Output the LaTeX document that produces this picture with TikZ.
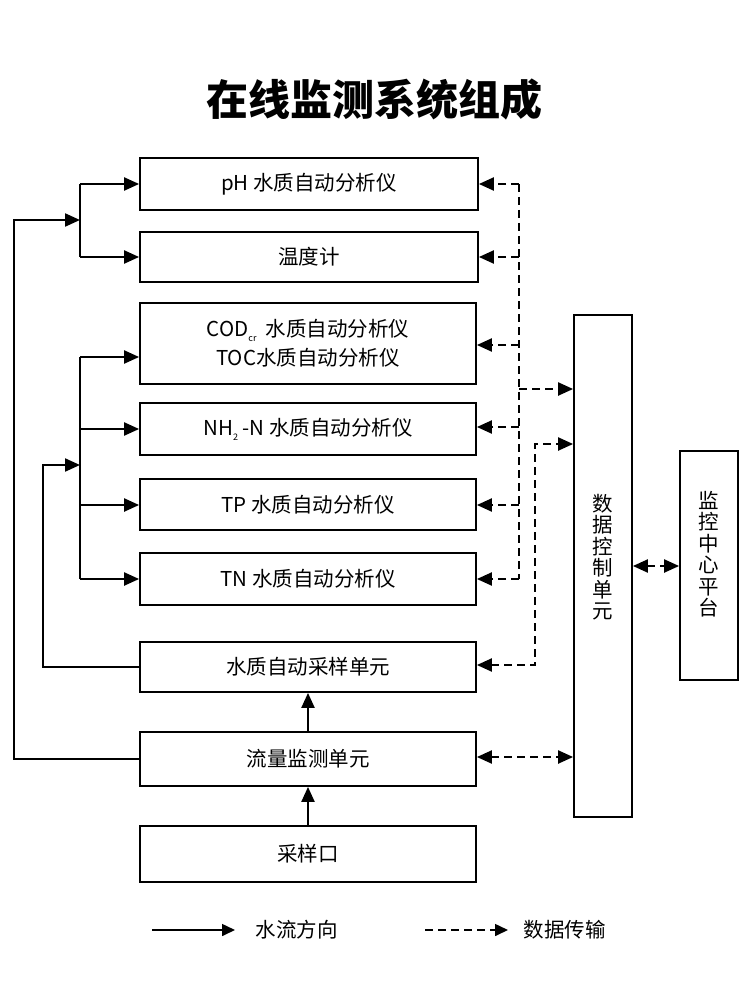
\documentclass[tikz,border=0pt]{standalone}
\usepackage{fontspec}
\setmainfont{Noto Sans CJK SC}
\usetikzlibrary{arrows.meta}
\newcommand{\tinysub}[1]{\raisebox{-5pt}{\fontsize{9}{9}\selectfont #1}}
\begin{document}
\begin{tikzpicture}[x=1pt,y=-1pt,
  box/.style={draw,line width=1.8pt,inner sep=0pt,align=center,font=\fontsize{20.5}{29}\selectfont},
  vtext/.style={align=center,font=\fontsize{20.5}{21.5}\selectfont},
  fline/.style={line width=2.2pt},
  dline/.style={line width=2.2pt,dash pattern=on 8pt off 5pt},
  tip/.tip={Triangle[length=15pt,width=13pt]},
  ltip/.tip={Triangle[length=13pt,width=12pt]},
  lab/.style={anchor=west,font=\fontsize{20.5}{23}\selectfont}]
\useasboundingbox (0,0) rectangle (750,1000);
\fill[white] (0,0) rectangle (750,1000);
% title
\node[font=\fontsize{42}{50}\selectfont\bfseries] (title) at (374,100) {在线监测系统组成};
% boxes
\node[box,minimum width=338pt,minimum height=52pt] (ph) at (309,184) {pH 水质自动分析仪};
\node[box,minimum width=338pt,minimum height=50pt] (temp) at (309,257) {温度计};
\node[box,minimum width=336pt,minimum height=81pt] (cod) at (308,343.5) {COD\tinysub{cr}\ \ 水质自动分析仪\\TOC水质自动分析仪};
\node[box,minimum width=336pt,minimum height=52pt] (nh) at (308,429) {NH\tinysub{2}\ -N 水质自动分析仪};
\node[box,minimum width=336pt,minimum height=51pt] (tp) at (308,504.5) {TP 水质自动分析仪};
\node[box,minimum width=336pt,minimum height=52pt] (tn) at (308,579) {TN 水质自动分析仪};
\node[box,minimum width=336pt,minimum height=50pt] (samp) at (308,667) {水质自动采样单元};
\node[box,minimum width=336pt,minimum height=54pt] (flow) at (308,759) {流量监测单元};
\node[box,minimum width=336pt,minimum height=56pt] (port) at (308,854) {采样口};
\node[box,minimum width=58pt,minimum height=502pt] (data) at (603,566) {};
\node[vtext] (datat) at (603,557) {数\\据\\控\\制\\单\\元};
\node[box,minimum width=58pt,minimum height=229pt] (ctr) at (709,565.5) {};
\node[vtext] (ctrt) at (709,554) {监\\控\\中\\心\\平\\台};
% left water flow
\coordinate (o1) at (14,759);
\coordinate (o2) at (14,220);
\coordinate (b1) at (80,220);
\coordinate (b1t) at (80,184);
\coordinate (b1b) at (80,257);
\draw[fline,-tip] (flow.west) -- (o1) -- (o2) -- (b1);
\draw[fline] (b1t) -- (b1b);
\draw[fline,-tip] (b1t) -- (ph.west);
\draw[fline,-tip] (b1b) -- (temp.west);
\coordinate (i1) at (43,667);
\coordinate (i2) at (43,465);
\coordinate (b2) at (80,465);
\coordinate (b2t) at (80,357);
\coordinate (b2n) at (80,429);
\coordinate (b2p) at (80,505);
\coordinate (b2b) at (80,579);
\draw[fline,-tip] (samp.west) -- (i1) -- (i2) -- (b2);
\draw[fline] (b2t) -- (b2b);
\draw[fline,-tip] (b2t) -- (cod.west |- b2t);
\draw[fline,-tip] (b2n) -- (nh.west |- b2n);
\draw[fline,-tip] (b2p) -- (tp.west |- b2p);
\draw[fline,-tip] (b2b) -- (tn.west |- b2b);
\draw[fline,-tip] (port.north) -- (flow.south);
\draw[fline,-tip] (flow.north) -- (samp.south);
% data lines
\coordinate (dt) at (519,184);
\coordinate (db) at (519,579);
\coordinate (dtemp) at (519,257);
\coordinate (dcod) at (519,345);
\coordinate (dnh) at (519,427);
\coordinate (dtp) at (519,505);
\coordinate (dm) at (519,389);
\draw[dline] (dt) -- (db);
\draw[dline,-tip] (dt) -- (ph.east |- dt);
\draw[dline,-tip] (dtemp) -- (temp.east |- dtemp);
\draw[dline,-tip] (dcod) -- (cod.east |- dcod);
\draw[dline,-tip] (dnh) -- (nh.east |- dnh);
\draw[dline,-tip] (dtp) -- (tp.east |- dtp);
\draw[dline,-tip] (db) -- (tn.east |- db);
\draw[dline,-tip] (dm) -- (data.west |- dm);
\coordinate (s1) at (535,665);
\coordinate (s2) at (535,444);
\draw[dline,tip-tip] (samp.east |- s1) -- (s1) -- (s2) -- (data.west |- s2);
\coordinate (f1) at (500,757);
\draw[dline,tip-tip] (flow.east |- f1) -- (data.west |- f1);
\coordinate (c1) at (650,566);
\draw[dline,tip-tip] (data.east |- c1) -- (ctr.west |- c1);
% legend
\coordinate (la) at (152,930);
\coordinate (lb) at (235,930);
\draw[line width=1.6pt,-ltip] (la) -- (lb);
\node[lab] (lt1) at (252,930) {水流方向};
\coordinate (lc) at (425,930);
\coordinate (ld) at (508,930);
\draw[line width=1.6pt,dash pattern=on 8pt off 5pt,-ltip] (lc) -- (ld);
\node[lab] (lt2) at (520,930) {数据传输};
\end{tikzpicture}
\end{document}
